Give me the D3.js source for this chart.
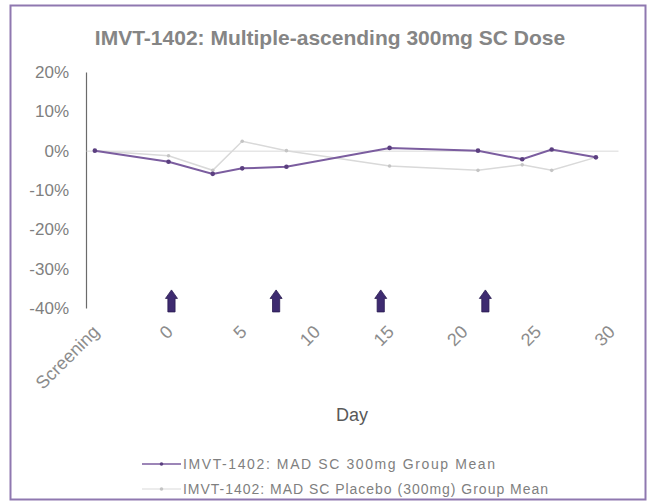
<!DOCTYPE html>
<html>
<head>
<meta charset="utf-8">
<script src="https://cdn.jsdelivr.net/npm/d3@7"></script>
<style>
  html, body { margin: 0; padding: 0; background: #fff; }
  svg { display: block; }
</style>
</head>
<body>
<svg id="chart" width="654" height="502"></svg>
<script>
// ---- data ----
const title = "IMVT-1402: Multiple-ascending 300mg SC Dose";
const xAxisTitle = "Day";
const days = [-5, 0, 3, 5, 8, 15, 21, 24, 26, 29];
const mad300 = [0, -2.8, -5.9, -4.5, -4.1, 0.7, 0, -2.2, 0.3, -1.7];
const placebo = [0, -1.3, -5.0, 2.4, 0, -3.9, -5.0, -3.6, -5.0, -1.7];
const seriesNames = ["IMVT-1402: MAD SC 300mg Group Mean", "IMVT-1402: MAD SC Placebo (300mg) Group Mean"];
const xTickValues = [-5, 0, 5, 10, 15, 20, 25, 30];
const xTickLabels = ["Screening", "0", "5", "10", "15", "20", "25", "30"];
const yTickValues = [20, 10, 0, -10, -20, -30, -40];
const doseArrowDays = [0.2, 7.3, 14.4, 21.5];
const doseArrowLevel = -41;

// ---- layout ----
const svg = d3.select("#chart");
const plot = { left: 86, right: 618, top: 72, bottom: 308 };
const font = "Liberation Sans, Arial, sans-serif";
const colMAD = "#7b5d9f", colMADMarker = "#5b3f80";
const colPbo = "#d9d9d9", colPboMarker = "#c4c4c4";

const x = d3.scaleLinear().domain([-5.6, 30.5]).range([plot.left, plot.right]);
const y = d3.scaleLinear().domain([-40, 20]).range([plot.bottom, plot.top]);

// frame
svg.append("rect").attr("x", 10.5).attr("y", 5.5).attr("width", 635).attr("height", 494)
  .attr("fill", "#fff").attr("stroke", "#8f78b0").attr("stroke-width", 2);

// title
svg.append("text").attr("x", 330).attr("y", 45).attr("text-anchor", "middle")
  .attr("font-family", font).attr("font-weight", "bold")
  .attr("font-size", 21).attr("fill", "#858585").text(title);

// y axis
const yAxis = d3.axisLeft(y).tickValues(yTickValues).tickSize(0).tickPadding(17)
  .tickFormat(d => d + "%");
const gy = svg.append("g").attr("transform", `translate(${plot.left},0)`).call(yAxis);
gy.select(".domain").attr("stroke", "#6b6b6b").attr("stroke-width", 1.2);
gy.selectAll("text").attr("font-family", font)
  .attr("font-size", 17).attr("fill", "#7f7f7f");

// zero line (x axis)
const xAxisLine = d3.axisBottom(x).tickValues([]).tickSize(0);
const gx0 = svg.append("g").attr("transform", `translate(0,${y(0)})`).call(xAxisLine);
gx0.select(".domain").attr("stroke", "#d9d9d9").attr("stroke-width", 1);

// bottom x labels
const xLabelAxis = d3.axisBottom(x).tickValues(xTickValues).tickSize(0)
  .tickFormat((d, i) => xTickLabels[i]);
const gxl = svg.append("g").attr("transform", `translate(0,${plot.bottom})`).call(xLabelAxis);
gxl.select(".domain").remove();
gxl.selectAll("text")
  .attr("font-family", font).attr("font-size", 18).attr("fill", "#8c8c8c")
  .attr("text-anchor", "end").attr("dy", 0).attr("y", 0)
  .attr("transform", "translate(5,25) rotate(-45)");

// x axis title
svg.append("text").attr("x", (plot.left + plot.right) / 2).attr("y", 421).attr("text-anchor", "middle")
  .attr("font-family", font).attr("font-size", 18).attr("fill", "#595959")
  .text(xAxisTitle);

// lines
const line = d3.line().x(d => x(d[0])).y(d => y(d[1]));
const pboData = days.map((d, i) => [d, placebo[i]]);
const madData = days.map((d, i) => [d, mad300[i]]);

svg.append("path").datum(pboData).attr("d", line).attr("fill", "none")
  .attr("stroke", colPbo).attr("stroke-width", 1.5);
svg.selectAll(".pbo").data(pboData).enter().append("circle")
  .attr("cx", d => x(d[0])).attr("cy", d => y(d[1])).attr("r", 1.8).attr("fill", colPboMarker);

svg.append("path").datum(madData).attr("d", line).attr("fill", "none")
  .attr("stroke", colMAD).attr("stroke-width", 2);
svg.selectAll(".mad").data(madData).enter().append("circle")
  .attr("cx", d => x(d[0])).attr("cy", d => y(d[1])).attr("r", 2.3).attr("fill", colMADMarker);

// dose arrows
const arrowPath = "M0,-22 L6,-13.5 L3.6,-13.5 L3.6,0 L-3.6,0 L-3.6,-13.5 L-6,-13.5 Z";
svg.selectAll(".arrow").data(doseArrowDays).enter().append("path")
  .attr("d", arrowPath)
  .attr("transform", d => `translate(${x(d)},${y(doseArrowLevel)})`)
  .attr("fill", "#3e2b70").attr("stroke", "#2a1c50").attr("stroke-width", 0.8);

// legend
const legendRows = [
  { name: seriesNames[0], color: colMAD, marker: colMADMarker, w: 1.6, y: 464, len: 312 },
  { name: seriesNames[1], color: colPbo, marker: colPboMarker, w: 1.2, y: 489, len: 365 }
];
const lg = svg.append("g");
legendRows.forEach(r => {
  lg.append("line").attr("x1", 142).attr("x2", 181).attr("y1", r.y).attr("y2", r.y)
    .attr("stroke", r.color).attr("stroke-width", r.w);
  lg.append("circle").attr("cx", 161.5).attr("cy", r.y).attr("r", 1.8).attr("fill", r.marker);
  lg.append("text").attr("x", 183).attr("y", r.y + 5)
    .attr("font-family", font).attr("font-size", 14).attr("fill", "#7f7f7f")
    .attr("textLength", r.len).attr("lengthAdjust", "spacing")
    .text(r.name);
});
</script>
</body>
</html>
